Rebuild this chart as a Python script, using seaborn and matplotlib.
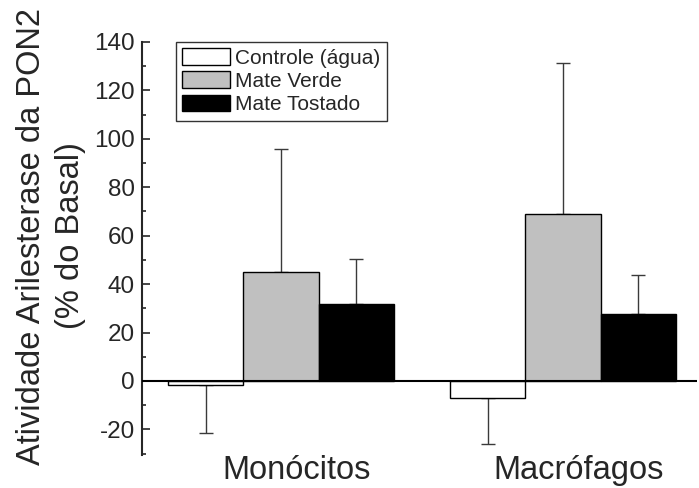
import matplotlib
matplotlib.use("Agg")
import matplotlib.pyplot as plt
import matplotlib.transforms as mtrans
import seaborn as sns
import pandas as pd
import numpy as np
from matplotlib.patches import Patch
from matplotlib.ticker import MultipleLocator

cells = ["Monócitos", "Macrófagos"]
treatments = ["Controle (água)", "Mate Verde", "Mate Tostado"]
means = {
    "Controle (água)": [-1.6, -7.0],
    "Mate Verde": [45.0, 68.8],
    "Mate Tostado": [31.6, 27.6],
}
errors = {
    "Controle (água)": [19.7, 19.0],
    "Mate Verde": [51.0, 62.6],
    "Mate Tostado": [18.6, 16.0],
}
colors = ["#ffffff", "#c0c0c0", "#000000"]

rows = []
for t in treatments:
    for c, v in zip(cells, means[t]):
        rows.append({"cell": c, "treat": t, "value": v})
df = pd.DataFrame(rows)

sns.set_style("ticks")
plt.rcParams["font.family"] = ["Liberation Sans", "DejaVu Sans"]
plt.rcParams["axes.unicode_minus"] = False

fig = plt.figure(figsize=(6.99, 4.88), dpi=100)
ax = fig.add_axes([0.203, 0.068, 0.794, 0.846])

sns.barplot(data=df, x="cell", y="value", hue="treat", order=cells,
            hue_order=treatments, palette=colors, errorbar=None,
            edgecolor="black", linewidth=1.0, width=0.8, ax=ax, legend=False,
            zorder=2)

for cont, t in zip(ax.containers, treatments):
    for bar, v, e in zip(cont, means[t], errors[t]):
        xc = bar.get_x() + bar.get_width() / 2
        if v >= 0:
            yerr = [[0], [e]]
        else:
            yerr = [[e], [0]]
        ax.errorbar(xc, v, yerr=yerr, fmt="none", ecolor="#3a3a3a",
                    elinewidth=1.0, capsize=5, capthick=1.0, zorder=1)

ax.axhline(0, color="black", lw=1.5, zorder=3)
ax.set_xlim(-0.493, 0.475 + 1)
ax.set_ylim(-30.5, 140)
ax.yaxis.set_major_locator(MultipleLocator(20))
ax.yaxis.set_minor_locator(MultipleLocator(10))
ax.tick_params(axis="y", which="major", direction="in", length=6, width=1.2,
               labelsize=17.5, pad=5)
ax.tick_params(axis="y", which="minor", direction="in", length=3, width=1.2)
ax.tick_params(axis="x", length=0, labelsize=23.5, pad=0)
offset = mtrans.ScaledTranslation(16 / 100, 0, fig.dpi_scale_trans)
for lab in ax.get_xticklabels():
    lab.set_transform(lab.get_transform() + offset)
for s in ["top", "right", "bottom"]:
    ax.spines[s].set_visible(False)
ax.spines["left"].set_linewidth(1.5)
ax.set_xlabel("")
ax.set_ylabel("Atividade Arilesterase da PON2\n(% do Basal)", fontsize=23.5,
              linespacing=1.35)
ax.yaxis.set_label_coords(-0.100, 0.530)

handles = [Patch(facecolor=c, edgecolor="black", linewidth=1.0) for c in colors]
leg = ax.legend(handles, treatments, loc="upper left",
                bbox_to_anchor=(0.061, 1.0), fontsize=15, frameon=True,
                fancybox=False, edgecolor="black", handlelength=2.3,
                handleheight=0.85, handletextpad=0.25, labelspacing=0.18,
                borderpad=0.3, borderaxespad=0)
leg.get_frame().set_linewidth(1.0)

fig.savefig("out.png", dpi=100)
